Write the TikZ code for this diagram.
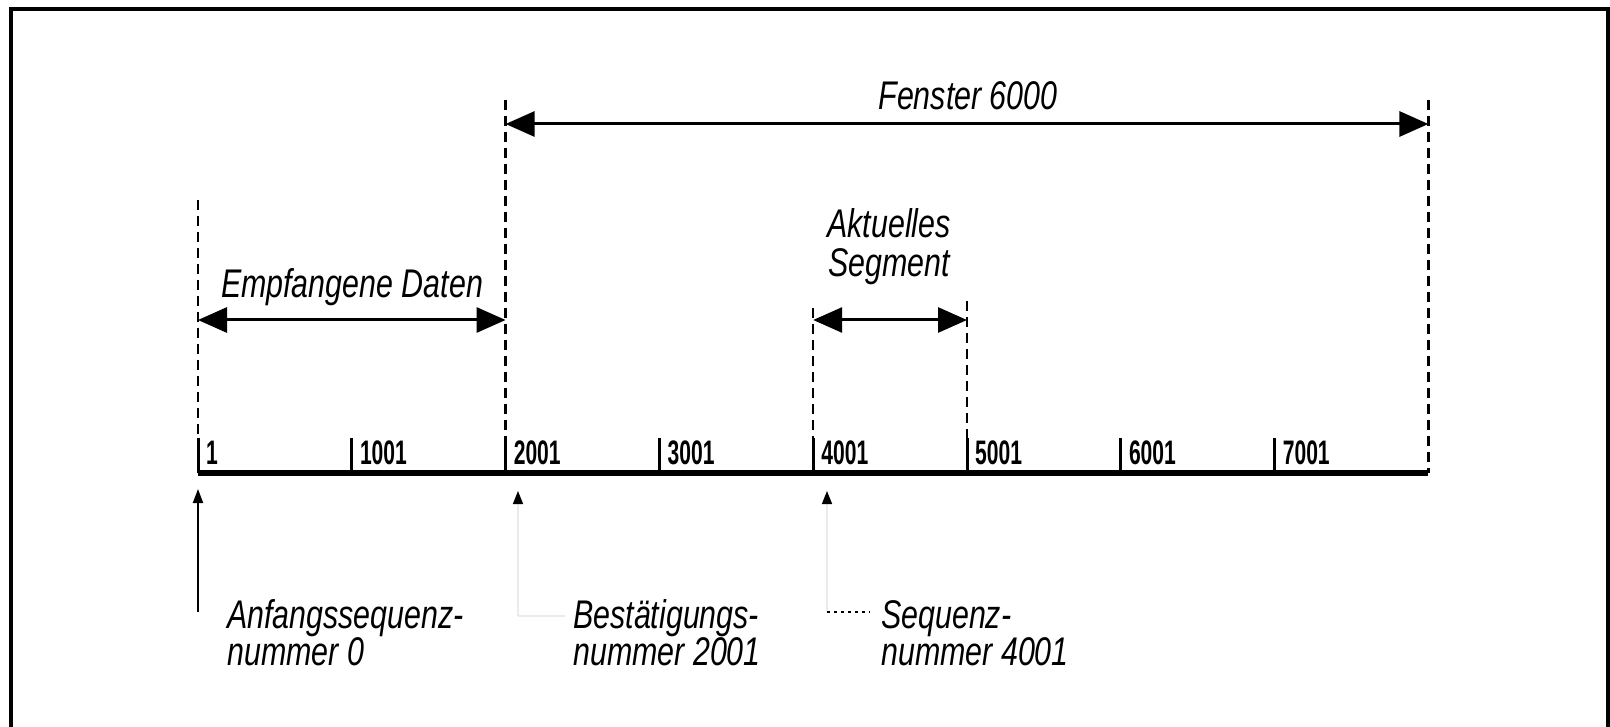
\documentclass[tikz,border=0pt]{standalone}
\usepackage{fontspec}
\newfontfamily\lblfont{Liberation Sans}[FakeStretch=0.76]
\newfontfamily\numfont{Liberation Sans}[FakeStretch=0.62]
\usetikzlibrary{arrows.meta}
\tikzset{
  lbl/.style={font=\lblfont\itshape\fontsize{40}{44}\selectfont, inner sep=0pt},
  lblw/.style={lbl, anchor=base west},
  num/.style={font=\numfont\bfseries\fontsize{34}{38}\selectfont, inner sep=0pt, anchor=base west},
  guide/.style={line width=2.5pt, dash pattern=on 10pt off 6pt},
  span/.style={line width=3pt, {Triangle[length=29pt,width=25pt]}-{Triangle[length=29pt,width=25pt]}},
  frameline/.style={line width=3.5pt},
  tickline/.style={line width=3pt},
  axisline/.style={line width=5.5pt},
  pointer/.style={line width=2pt, -{Triangle[length=14pt,width=10pt]}},
  faint/.style={line width=1.5pt, draw=black!8, -{Triangle[length=13pt,width=10pt,color=black]}},
  faintline/.style={line width=1.5pt, draw=black!8},
  dotline/.style={line width=2pt, dash pattern=on 3pt off 4pt},
}
\begin{document}
\begin{tikzpicture}[x=1pt,y=-1pt]
\useasboundingbox (0,0) rectangle (1610,727);
% frame
\coordinate (fbl) at (11,727);
\coordinate (ftl) at (11,9);
\coordinate (ftr) at (1608,9);
\coordinate (fbr) at (1608,727);
\draw[frameline] (fbl) -- (ftl) -- (ftr) -- (fbr);
% axis coordinates
\foreach \i/\x in {0/198,1/351.8,2/505.6,3/659.4,4/813.2,5/967,6/1120.8,7/1274.6,8/1428.4}{
  \coordinate (b\i) at (\x,473);
  \coordinate (t\i) at (\x,438);
}
\draw[axisline] (b0) -- (b8);
\foreach \i in {0,...,7}{ \draw[tickline] (b\i) -- (t\i); }
% tick labels
\node[num] (n0) at (206,464) {1};
\node[num] (n1) at (359.8,464) {1001};
\node[num] (n2) at (513.6,464) {2001};
\node[num] (n3) at (667.4,464) {3001};
\node[num] (n4) at (821.2,464) {4001};
\node[num] (n5) at (975,464) {5001};
\node[num] (n6) at (1128.8,464) {6001};
\node[num] (n7) at (1282.6,464) {7001};
% guides
\coordinate (g0) at (198,200);
\coordinate (g2) at (505.6,100);
\coordinate (g4) at (813.2,308);
\coordinate (g5) at (967,301);
\coordinate (g8) at (1428.4,100);
\draw[guide] (g0) -- (t0);
\draw[guide] (g2) -- (t2);
\draw[guide] (g4) -- (t4);
\draw[guide] (g5) -- (t5);
\draw[guide] (g8) -- (b8);
% spans
\coordinate (fa) at (505.6,124);
\coordinate (fb) at (1428.4,124);
\draw[span] (fa) -- (fb);
\node[lbl, anchor=base] (fenster) at (968,110) {Fenster 6000};
\coordinate (ea) at (198,320);
\coordinate (eb) at (505.6,320);
\draw[span] (ea) -- (eb);
\node[lbl, anchor=base] (empf) at (352,298) {Empfangene Daten};
\coordinate (aa) at (813.2,320);
\coordinate (ab) at (967,320);
\draw[span] (aa) -- (ab);
\node[lbl, anchor=base] (akt1) at (889,238) {Aktuelles};
\node[lbl, anchor=base] (akt2) at (889,277) {Segment};
% pointers below the axis
\coordinate (p0a) at (198,612);
\coordinate (p0b) at (198,489);
\draw[pointer] (p0a) -- (p0b);
\coordinate (p2a) at (518,616);
\coordinate (p2b) at (518,491);
\coordinate (p2c) at (565,616);
\draw[faintline] (p2a) -- (p2c);
\draw[faint] (p2a) -- (p2b);
\coordinate (p4a) at (827,612);
\coordinate (p4b) at (827,491);
\coordinate (p4c) at (870,612);
\draw[faint] (p4a) -- (p4b);
\draw[dotline] (p4a) -- (p4c);
% bottom texts
\node[lblw] (ans1) at (227,628) {Anfangssequenz-};
\node[lblw] (ans2) at (227,665) {nummer 0};
\node[lblw] (best1) at (573,628) {Bestätigungs-};
\node[lblw] (best2) at (573,665) {nummer 2001};
\node[lblw] (seq1) at (881,628) {Sequenz-};
\node[lblw] (seq2) at (881,665) {nummer 4001};
\end{tikzpicture}
\end{document}
